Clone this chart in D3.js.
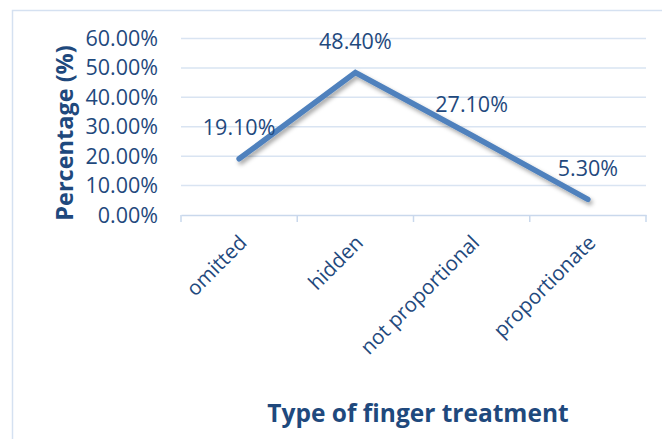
<!DOCTYPE html>
<html><head><meta charset="utf-8">
<script src="https://cdn.jsdelivr.net/npm/d3@7"></script>
<style>html,body{margin:0;padding:0;background:#fff;}svg{display:block;}</style>
</head><body>
<script>
const categories = ["omitted", "hidden", "not proportional", "proportionate"];
const values = [19.1, 48.4, 27.1, 5.3];
const yTicks = [0, 10, 20, 30, 40, 50, 60];
const xTitle = "Type of finger treatment";
const yTitle = "Percentage (%)";

const W = 662, H = 439;
const textColor = "#1F497D";
const gridColor = "#D9E4F2";
const font = "'Open Sans', sans-serif";

const svg = d3.select("body").append("svg").attr("width", W).attr("height", H);
const defs = svg.append("defs");
const f = defs.append("filter").attr("id", "sh").attr("x", "-20%").attr("y", "-20%").attr("width", "140%").attr("height", "140%");
f.append("feDropShadow").attr("dx", 2).attr("dy", 3).attr("stdDeviation", 2).attr("flood-color", "#000").attr("flood-opacity", 0.35);

// chart border
svg.append("rect").attr("x", 12.5).attr("y", 10.5).attr("width", 700).attr("height", 500)
  .attr("fill", "none").attr("stroke", "#D5E1F1").attr("stroke-width", 1.5);

const x = d3.scaleBand().domain(categories).range([181, 646]);
const y = d3.scaleLinear().domain([0, 60]).range([215, 38.5]);

// gridlines
svg.append("g").selectAll("line").data(yTicks.filter(d => d > 0)).join("line")
  .attr("x1", 181).attr("x2", 646).attr("y1", d => y(d)).attr("y2", d => y(d))
  .attr("stroke", gridColor).attr("stroke-width", 1.5);

// x axis
const xa = svg.append("g").attr("transform", `translate(0,${y(0)})`)
  .call(d3.axisBottom(x).tickSize(0).tickFormat(""));
xa.select(".domain").attr("stroke", "#C9D8EC").attr("stroke-width", 1.5);
const bounds = categories.map(c => x(c)).concat([x.range()[1]]);
xa.selectAll(".bt").data(bounds).join("line").attr("class", "bt")
  .attr("x1", d => d).attr("x2", d => d).attr("y1", 0).attr("y2", 7)
  .attr("stroke", "#C9D8EC").attr("stroke-width", 1.5);

// y tick labels
svg.append("g").selectAll("text").data(yTicks).join("text")
  .attr("x", 158).attr("y", d => y(d)).attr("dy", "0.35em")
  .attr("text-anchor", "end").attr("fill", textColor)
  .style("font-family", font).style("font-size", "21.5px")
  .text(d => d3.format(".2f")(d) + "%");

// category labels
svg.append("g").selectAll("text").data(categories).join("text")
  .attr("transform", d => `translate(${x(d) + x.bandwidth() / 2 + 9},244) rotate(-45)`)
  .attr("text-anchor", "end").attr("fill", textColor)
  .style("font-family", font).style("font-size", "20.5px")
  .text(d => d);

// line
const line = d3.line().x((d, i) => x(categories[i]) + x.bandwidth() / 2).y(d => y(d));
svg.append("path").datum(values).attr("d", line)
  .attr("fill", "none").attr("stroke", "#4F81BD").attr("stroke-width", 5.5)
  .attr("stroke-linejoin", "miter").attr("stroke-linecap", "round")
  .attr("filter", "url(#sh)");

// data labels
svg.append("g").selectAll("text").data(values).join("text")
  .attr("x", (d, i) => x(categories[i]) + x.bandwidth() / 2)
  .attr("y", d => y(d) - 31).attr("dy", "0.35em")
  .attr("text-anchor", "middle").attr("fill", textColor)
  .style("font-family", font).style("font-size", "21.5px")
  .text(d => d3.format(".2f")(d) + "%");

// axis titles
svg.append("text").attr("transform", "translate(65,133) rotate(-90)")
  .attr("dy", "0.35em").attr("text-anchor", "middle").attr("fill", textColor)
  .style("font-family", font).style("font-size", "23.5px").style("font-weight", "bold")
  .text(yTitle);
svg.append("text").attr("x", 418).attr("y", 413).attr("dy", "0.35em")
  .attr("text-anchor", "middle").attr("fill", textColor)
  .style("font-family", font).style("font-size", "24.5px").style("font-weight", "bold")
  .text(xTitle);
</script>
</body></html>
